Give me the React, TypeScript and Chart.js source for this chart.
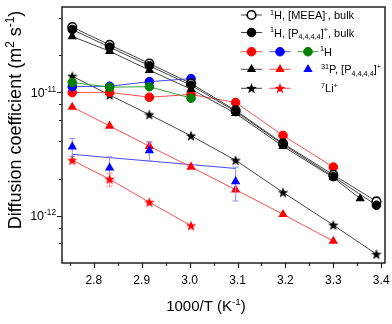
import { useEffect, useRef } from 'react';
import { Chart, registerables } from 'chart.js';

Chart.register(...registerables);

const FONT = '"Liberation Sans", Arial, Helvetica, sans-serif';

// 1000/T (K^-1) positions
const X_T = [2.755, 2.833, 2.916, 3.003, 3.096, 3.195, 3.3, 3.39];
const X_P_BULK = [2.755, 2.833, 2.916, 3.003, 3.096, 3.195, 3.3, 3.356];
const X_BLUE_FIT = [2.755, 2.833, 2.916, 3.003, 3.096];
const X_BLUE_TRI = [2.755, 2.833, 2.916, 3.096];

// Diffusion coefficients (m^2 s^-1)
const D_H_MEEA_BULK = [3.37e-11, 2.42e-11, 1.71e-11, 1.18e-11, 7.13e-12, 3.86e-12, 2.15e-12, 1.31e-12];
const D_H_P_BULK = [3.22e-11, 2.32e-11, 1.64e-11, 1.14e-11, 6.99e-12, 3.79e-12, 2.08e-12, 1.22e-12];
const D_P_BULK = [2.83e-11, 2.15e-11, 1.51e-11, 1.06e-11, 6.75e-12, 3.66e-12, 2.04e-12, 1.38e-12];
const D_LI_BULK = [1.35e-11, 9.5e-12, 6.6e-12, 4.45e-12, 2.82e-12, 1.55e-12, 8.43e-13, 4.9e-13];
const D_H_RED = [9.95e-12, 1.0e-11, 9.13e-12, 9.6e-12, 8.28e-12, 4.48e-12, 2.48e-12];
const D_H_BLUE = [1.11e-11, 1.12e-11, 1.22e-11, 1.29e-11];
const D_H_GREEN = [1.2e-11, 1.1e-11, 1.11e-11, 8.96e-12];
const D_P_RED = [7.6e-12, 5.34e-12, 3.66e-12, 2.49e-12, 1.63e-12, 1.03e-12, 6.25e-13];
const D_P_RED_ERR = [0, 0, 0.28e-12, 0, 0, 0, 0];
const D_P_BLUE = [3.63e-12, 2.45e-12, 3.38e-12, 1.9e-12];
const D_P_BLUE_ERR = [0.6e-12, 0.55e-12, 0.6e-12, 0.58e-12];
const D_P_BLUE_FIT = [3.15e-12, 2.96e-12, 2.78e-12, 2.6e-12, 2.42e-12];
const D_LI_RED = [2.82e-12, 1.98e-12, 1.29e-12, 8.34e-13];
const D_LI_RED_ERR = [0, 0.24e-12, 0, 0];

// Axes
const X_MIN = 2.7336;
const X_MAX = 3.4079;
const Y_MIN = 4.159e-13;
const Y_MAX = 4.9e-11;
const X_TICKS = [2.8, 2.9, 3.0, 3.1, 3.2, 3.3, 3.4];
const X_TICK_LABELS = ['2.8', '2.9', '3.0', '3.1', '3.2', '3.3', '3.4'];
const X_MINOR = [2.75, 2.85, 2.95, 3.05, 3.15, 3.25, 3.35];
const Y_MAJOR = [1e-11, 1e-12];
const Y_MAJOR_BASE = ['10', '10'];
const Y_MAJOR_EXP = ['-11', '-12'];
const Y_MINOR = [4e-11, 2e-11, 8e-12, 6e-12, 4e-12, 2e-12, 8e-13, 6e-13];

type Seg = [string, 'n' | 'sup' | 'sub'];
const X_TITLE: Seg[] = [['1000/T (K', 'n'], ['-1', 'sup'], [')', 'n']];
const Y_TITLE: Seg[] = [['Diffusion coefficient (m', 'n'], ['2', 'sup'], [' s', 'n'], ['-1', 'sup'], [')', 'n']];
const LEG_1: Seg[] = [['1', 'sup'], ['H, [MEEA]', 'n'], ['-', 'sup'], [', bulk', 'n']];
const LEG_2: Seg[] = [['1', 'sup'], ['H, [P', 'n'], ['4,4,4,4', 'sub'], [']', 'n'], ['+', 'sup'], [', bulk', 'n']];
const LEG_3: Seg[] = [['1', 'sup'], ['H', 'n']];
const LEG_4: Seg[] = [['31', 'sup'], ['P, [P', 'n'], ['4,4,4,4', 'sub'], [']', 'n'], ['+', 'sup']];
const LEG_5: Seg[] = [['7', 'sup'], ['Li', 'n'], ['+', 'sup']];

const BLACK = '#000000';
const RED = '#ff0000';
const BLUE = '#0000ff';
const GREEN = '#008000';
const L_BLACK = '#444444';
const L_RED = '#ff5050';
const L_BLUE = '#4848ff';
const L_GREEN = '#36a036';

function starPath(g: CanvasRenderingContext2D, cx: number, cy: number, R: number, r: number) {
  g.beginPath();
  for (let i = 0; i < 10; i++) {
    const rad = i % 2 === 0 ? R : r;
    const a = -Math.PI / 2 + (i * Math.PI) / 5;
    const px = cx + rad * Math.cos(a);
    const py = cy + rad * Math.sin(a);
    if (i === 0) g.moveTo(px, py);
    else g.lineTo(px, py);
  }
  g.closePath();
}

function starCanvas(color: string) {
  const c = document.createElement('canvas');
  c.width = 14;
  c.height = 14;
  const g = c.getContext('2d')!;
  starPath(g, 7, 7.4, 5.6, 2.3);
  g.fillStyle = color;
  g.fill();
  return c;
}

function drawRich(ctx: CanvasRenderingContext2D, segs: Seg[], x: number, y: number, size: number, align: 'left' | 'center' | 'right') {
  const small = size * 0.66;
  let w = 0;
  for (const [t, m] of segs) {
    ctx.font = `${m === 'n' ? size : small}px ${FONT}`;
    w += ctx.measureText(t).width;
  }
  let cx = align === 'left' ? x : align === 'center' ? x - w / 2 : x - w;
  ctx.textAlign = 'left';
  ctx.textBaseline = 'alphabetic';
  for (const [t, m] of segs) {
    ctx.font = `${m === 'n' ? size : small}px ${FONT}`;
    const dy = m === 'sup' ? -size * 0.4 : m === 'sub' ? size * 0.2 : 0;
    ctx.fillText(t, cx, y + dy);
    cx += ctx.measureText(t).width;
  }
}

function legendMarker(ctx: CanvasRenderingContext2D, kind: string, color: string, x: number, y: number, fill?: string) {
  ctx.save();
  if (kind === 'circle') {
    ctx.beginPath();
    ctx.arc(x, y, 4.3, 0, Math.PI * 2);
    ctx.fillStyle = fill || color;
    ctx.fill();
    ctx.lineWidth = fill ? 1.6 : 1;
    ctx.strokeStyle = color;
    ctx.stroke();
  } else if (kind === 'triangle') {
    const r = 5.4;
    ctx.beginPath();
    ctx.moveTo(x, y - r);
    ctx.lineTo(x + r * Math.sin((2 * Math.PI) / 3), y - r * Math.cos((2 * Math.PI) / 3));
    ctx.lineTo(x + r * Math.sin((4 * Math.PI) / 3), y - r * Math.cos((4 * Math.PI) / 3));
    ctx.closePath();
    ctx.fillStyle = color;
    ctx.fill();
  } else {
    starPath(ctx, x, y + 0.4, 5.6, 2.3);
    ctx.fillStyle = color;
    ctx.fill();
  }
  ctx.restore();
}

function legendLine(ctx: CanvasRenderingContext2D, color: string, x: number, y: number) {
  ctx.save();
  ctx.strokeStyle = color;
  ctx.lineWidth = 1;
  ctx.beginPath();
  ctx.moveTo(x - 10.5, y);
  ctx.lineTo(x + 10.5, y);
  ctx.stroke();
  ctx.restore();
}

const LEGEND_ROWS = [
  { y: 15, text: LEG_1, tx: 270, items: [{ kind: 'circle', color: BLACK, line: L_BLACK, x: 251.5, fill: '#ffffff' }] },
  { y: 32.5, text: LEG_2, tx: 270, items: [{ kind: 'circle', color: BLACK, line: L_BLACK, x: 251.5 }] },
  {
    y: 51.7, text: LEG_3, tx: 320, items: [
      { kind: 'circle', color: RED, line: L_RED, x: 251.5 },
      { kind: 'circle', color: BLUE, line: L_BLUE, x: 280 },
      { kind: 'circle', color: GREEN, line: L_GREEN, x: 308 },
    ],
  },
  {
    y: 69.3, text: LEG_4, tx: 321, items: [
      { kind: 'triangle', color: BLACK, line: L_BLACK, x: 251.5 },
      { kind: 'triangle', color: RED, line: L_RED, x: 280 },
      { kind: 'triangle', color: BLUE, line: '', x: 308 },
    ],
  },
  {
    y: 88.3, text: LEG_5, tx: 321, items: [
      { kind: 'star', color: BLACK, line: L_BLACK, x: 251.5 },
      { kind: 'star', color: RED, line: L_RED, x: 280 },
    ],
  },
];

const decorPlugin = {
  id: 'decor',
  beforeDatasetDraw(chart: any, args: any) {
    const ds = chart.data.datasets[args.index];
    if (!ds.errors) return;
    const ctx = chart.ctx as CanvasRenderingContext2D;
    const xs = chart.scales.x;
    const ys = chart.scales.y;
    ctx.save();
    ctx.strokeStyle = ds.errorColor;
    ctx.lineWidth = 1;
    ds.data.forEach((p: any, i: number) => {
      const e = ds.errors[i];
      if (!e) return;
      const px = xs.getPixelForValue(p.x);
      const top = ys.getPixelForValue(p.y + e);
      const bot = ys.getPixelForValue(p.y - e);
      ctx.beginPath();
      ctx.moveTo(px, top);
      ctx.lineTo(px, bot);
      ctx.moveTo(px - 3, top);
      ctx.lineTo(px + 3, top);
      ctx.moveTo(px - 3, bot);
      ctx.lineTo(px + 3, bot);
      ctx.stroke();
    });
    ctx.restore();
  },
  afterDraw(chart: any) {
    const ctx = chart.ctx as CanvasRenderingContext2D;
    const { left, right, top, bottom } = chart.chartArea;
    const xs = chart.scales.x;
    const ys = chart.scales.y;
    ctx.save();
    ctx.strokeStyle = '#222222';
    ctx.fillStyle = '#000000';
    ctx.lineWidth = 1.5;
    ctx.strokeRect(left, top, right - left, bottom - top);

    ctx.lineWidth = 1.2;
    ctx.beginPath();
    X_TICKS.forEach((v) => {
      const px = Math.round(xs.getPixelForValue(v)) + 0.5;
      ctx.moveTo(px, bottom);
      ctx.lineTo(px, bottom + 5);
    });
    X_MINOR.forEach((v) => {
      const px = Math.round(xs.getPixelForValue(v)) + 0.5;
      ctx.moveTo(px, bottom);
      ctx.lineTo(px, bottom + 3);
    });
    Y_MAJOR.forEach((v) => {
      const py = Math.round(ys.getPixelForValue(v)) + 0.5;
      ctx.moveTo(left, py);
      ctx.lineTo(left - 5, py);
    });
    Y_MINOR.forEach((v) => {
      const py = Math.round(ys.getPixelForValue(v)) + 0.5;
      ctx.moveTo(left, py);
      ctx.lineTo(left - 3, py);
    });
    ctx.stroke();

    ctx.font = `12px ${FONT}`;
    ctx.textAlign = 'center';
    ctx.textBaseline = 'alphabetic';
    X_TICKS.forEach((v, i) => {
      ctx.fillText(X_TICK_LABELS[i], xs.getPixelForValue(v), bottom + 20.5);
    });
    Y_MAJOR.forEach((v, i) => {
      const py = ys.getPixelForValue(v);
      drawRich(ctx, [[Y_MAJOR_BASE[i], 'n'], [Y_MAJOR_EXP[i], 'sup']], 56, py + 4.5, 12.5, 'right');
    });

    drawRich(ctx, X_TITLE, 206, 311, 15, 'center');
    ctx.save();
    ctx.translate(21, 120);
    ctx.rotate(-Math.PI / 2);
    drawRich(ctx, Y_TITLE, 0, 0, 18, 'center');
    ctx.restore();

    LEGEND_ROWS.forEach((row) => {
      row.items.forEach((it: any) => {
        if (it.line) legendLine(ctx, it.line, it.x, row.y);
      });
      row.items.forEach((it: any) => legendMarker(ctx, it.kind, it.color, it.x, row.y, it.fill));
      ctx.fillStyle = '#000000';
      drawRich(ctx, row.text, row.tx, row.y + 4, 11, 'left');
    });
    ctx.restore();
  },
};

function pts(xs: number[], ys: number[]) {
  return ys.map((y, i) => ({ x: xs[i], y }));
}

export default function App() {
  const ref = useRef<HTMLCanvasElement>(null);
  useEffect(() => {
    if (!ref.current) return;
    const starBlack = starCanvas(BLACK);
    const starRed = starCanvas(RED);
    const base = { borderWidth: 1, pointBorderWidth: 1, showLine: true, tension: 0 };
    // bottom -> top drawing order
    const list: any[] = [
      { ...base, label: 'fit', data: pts(X_BLUE_FIT, D_P_BLUE_FIT), borderColor: L_BLUE, pointRadius: 0 },
      { ...base, label: 'Li bulk', data: pts(X_T, D_LI_BULK), borderColor: L_BLACK, pointStyle: starBlack, pointRadius: 6 },
      { ...base, label: 'H red', data: pts(X_T, D_H_RED), borderColor: L_RED, pointStyle: 'circle', pointRadius: 4.3, pointBackgroundColor: RED, pointBorderColor: RED },
      { ...base, label: 'H blue', data: pts(X_T, D_H_BLUE), borderColor: L_BLUE, pointStyle: 'circle', pointRadius: 4.3, pointBackgroundColor: BLUE, pointBorderColor: BLUE },
      { ...base, label: 'H green', data: pts(X_T, D_H_GREEN), borderColor: L_GREEN, pointStyle: 'circle', pointRadius: 4.3, pointBackgroundColor: GREEN, pointBorderColor: GREEN },
      { ...base, label: 'H MEEA bulk', data: pts(X_T, D_H_MEEA_BULK), borderColor: L_BLACK, pointStyle: 'circle', pointRadius: 4.3, pointBackgroundColor: '#ffffff', pointBorderColor: BLACK, pointBorderWidth: 1.6 },
      { ...base, label: 'H P bulk', data: pts(X_T, D_H_P_BULK), borderColor: L_BLACK, pointStyle: 'circle', pointRadius: 4.3, pointBackgroundColor: BLACK, pointBorderColor: BLACK },
      { ...base, label: 'P bulk', data: pts(X_P_BULK, D_P_BULK), borderColor: L_BLACK, pointStyle: 'triangle', pointRadius: 5.4, pointBackgroundColor: BLACK, pointBorderColor: BLACK, pointBorderWidth: 0 },
      { ...base, label: 'P red', data: pts(X_T, D_P_RED), errors: D_P_RED_ERR, errorColor: '#ff8c8c', borderColor: L_RED, pointStyle: 'triangle', pointRadius: 5.4, pointBackgroundColor: RED, pointBorderColor: RED, pointBorderWidth: 0 },
      { ...base, label: 'P blue', data: pts(X_BLUE_TRI, D_P_BLUE), errors: D_P_BLUE_ERR, errorColor: '#8c8cff', showLine: false, pointStyle: 'triangle', pointRadius: 5.4, pointBackgroundColor: BLUE, pointBorderColor: BLUE, pointBorderWidth: 0 },
      { ...base, label: 'Li red', data: pts(X_T, D_LI_RED), errors: D_LI_RED_ERR, errorColor: '#ff8c8c', borderColor: L_RED, pointStyle: starRed, pointRadius: 6 },
    ];
    const n = list.length;
    list.forEach((d, i) => {
      d.order = n - i;
    });
    const chart = new Chart(ref.current, {
      type: 'scatter',
      data: { datasets: list },
      options: {
        animation: false,
        responsive: false,
        maintainAspectRatio: false,
        devicePixelRatio: 1,
        layout: { padding: { left: 62, top: 2, right: 5, bottom: 61 } },
        plugins: { legend: { display: false }, tooltip: { enabled: false } },
        scales: {
          x: { type: 'linear', min: X_MIN, max: X_MAX, display: false },
          y: { type: 'logarithmic', min: Y_MIN, max: Y_MAX, display: false },
        },
      } as any,
      plugins: [decorPlugin],
    });
    return () => chart.destroy();
  }, []);
  return (
    <div style={{ position: 'absolute', left: 0, top: 0, width: 392, height: 324, background: '#ffffff' }}>
      <canvas ref={ref} width={392} height={324} style={{ width: 392, height: 324 }} />
    </div>
  );
}
